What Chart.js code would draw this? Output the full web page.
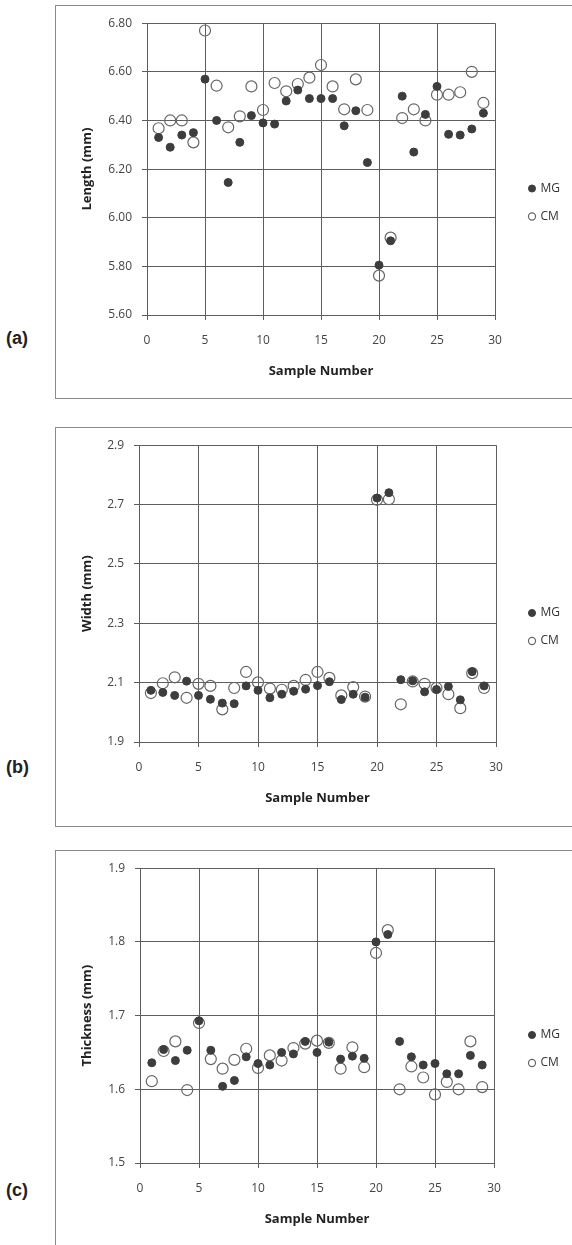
<!DOCTYPE html>
<html>
<head>
<meta charset="utf-8">
<script src="https://cdn.jsdelivr.net/npm/chart.js@4.4.1/dist/chart.umd.min.js"></script>
<style>
  html, body { margin: 0; padding: 0; background: #fff; width: 572px; height: 1245px; overflow: hidden; position: relative; }
  .box { position: absolute; left: 55px; width: 600px; border: 1px solid #8a8a8a; background: #fff; }
  .box canvas { position: absolute; left: 0; top: 0; }
  .tag { position: absolute; left: 6px; height: 20px; line-height: 20px; font: bold 18px "Liberation Sans", Arial, sans-serif; color: #222; }
</style>
</head>
<body>
<div class="box" style="top:5px;height:392px"><canvas id="chartA" width="516" height="392"></canvas></div>
<div class="box" style="top:427px;height:398px"><canvas id="chartB" width="516" height="398"></canvas></div>
<div class="box" style="top:850px;height:400px"><canvas id="chartC" width="516" height="394"></canvas></div>
<div class="tag" style="top:328px">(a)</div>
<div class="tag" style="top:757px">(b)</div>
<div class="tag" style="top:1180px">(c)</div>

<script>
// sample numbers on the x axis
const sampleNo = [1, 2, 3, 4, 5, 6, 7, 8, 9, 10, 11, 12, 13, 14, 15, 16, 17, 18, 19, 20, 21, 22, 23, 24, 25, 26, 27, 28, 29];

// (a) length, mm
const lengthMG = [6.33, 6.29, 6.34, 6.35, 6.57, 6.40, 6.145, 6.31, 6.42, 6.39, 6.385, 6.48, 6.525, 6.49, 6.49, 6.49, 6.378, 6.44, 6.227, 5.805, 5.905, 6.50, 6.27, 6.425, 6.54, 6.343, 6.34, 6.365, 6.43];
const lengthCM = [6.368, 6.40, 6.40, 6.31, 6.77, 6.543, 6.372, 6.417, 6.54, 6.443, 6.554, 6.52, 6.55, 6.576, 6.628, 6.54, 6.446, 6.569, 6.443, 5.762, 5.918, 6.41, 6.446, 6.40, 6.506, 6.506, 6.516, 6.60, 6.472];

// (b) width, mm
const widthMG = [2.074, 2.067, 2.057, 2.105, 2.057, 2.044, 2.031, 2.029, 2.089, 2.074, 2.049, 2.061, 2.071, 2.078, 2.09, 2.103, 2.043, 2.061, 2.051, 2.722, 2.74, 2.11, 2.106, 2.069, 2.077, 2.087, 2.042, 2.137, 2.089];
const widthCM = [2.065, 2.098, 2.118, 2.049, 2.096, 2.089, 2.01, 2.082, 2.136, 2.101, 2.08, 2.076, 2.089, 2.109, 2.136, 2.116, 2.057, 2.085, 2.053, 2.716, 2.718, 2.027, 2.104, 2.096, 2.082, 2.061, 2.014, 2.132, 2.082];

// (c) thickness, mm
const thicknessMG = [1.636, 1.654, 1.639, 1.653, 1.693, 1.653, 1.604, 1.612, 1.644, 1.635, 1.633, 1.65, 1.648, 1.665, 1.65, 1.664, 1.641, 1.645, 1.642, 1.80, 1.81, 1.665, 1.644, 1.633, 1.635, 1.621, 1.621, 1.646, 1.633];
const thicknessCM = [1.611, 1.652, 1.665, 1.599, 1.69, 1.641, 1.628, 1.64, 1.655, 1.629, 1.646, 1.639, 1.656, 1.662, 1.666, 1.663, 1.628, 1.657, 1.63, 1.785, 1.816, 1.60, 1.631, 1.616, 1.593, 1.61, 1.60, 1.665, 1.603];

// tick labels
const xTicks = [0, 5, 10, 15, 20, 25, 30];
const lengthTicks = [5.6, 5.8, 6.0, 6.2, 6.4, 6.6, 6.8];
const widthTicks = [1.9, 2.1, 2.3, 2.5, 2.7, 2.9];
const thicknessTicks = [1.5, 1.6, 1.7, 1.8, 1.9];

const seriesNames = ['MG', 'CM'];

Chart.defaults.font.family = '"Open Sans", sans-serif';
Chart.defaults.color = '#333';

const gridColor = '#5e5e5e';

function pts(ys) {
  return sampleNo.map((n, i) => ({ x: n, y: ys[i] }));
}

function makePanel(id, mg, cm, yTitle, yTicks, digits, g) {
  const ctx = document.getElementById(id).getContext('2d');
  return new Chart(ctx, {
    type: 'scatter',
    data: {
      datasets: [{
        label: seriesNames[0],
        data: pts(mg),
        pointRadius: 4,
        pointBackgroundColor: '#3d3d3d',
        pointBorderColor: '#3d3d3d',
        borderWidth: 1
      }, {
        label: seriesNames[1],
        data: pts(cm),
        pointRadius: 5.5,
        pointBackgroundColor: 'rgba(255,255,255,0)',
        pointBorderColor: '#666',
        borderWidth: 1.2
      }]
    },
    options: {
      responsive: false,
      animation: false,
      clip: false,
      layout: { padding: { left: 19, top: 16, right: 8.5, bottom: g.padB } },
      plugins: {
        tooltip: { enabled: false },
        legend: {
          position: 'right',
          maxWidth: 50,
          labels: {
            usePointStyle: true,
            boxWidth: 5,
            boxHeight: 5,
            padding: 16,
            color: '#333',
            font: { size: 12 }
          }
        }
      },
      scales: {
        x: {
          type: 'linear',
          min: xTicks[0],
          max: xTicks[xTicks.length - 1],
          afterBuildTicks: s => { s.ticks = xTicks.map(v => ({ value: v })); },
          afterFit: s => { s.height = 68; },
          grid: { color: gridColor, lineWidth: 1, tickLength: 5 },
          border: { color: gridColor },
          ticks: { padding: 13, font: { size: 12 }, color: '#444' },
          title: { display: true, text: 'Sample Number', font: { size: 13, weight: 'bold' }, color: '#222' }
        },
        y: {
          type: 'linear',
          min: yTicks[0],
          max: yTicks[yTicks.length - 1],
          afterBuildTicks: s => { s.ticks = yTicks.map(v => ({ value: v })); },
          afterFit: s => { s.width = g.yWidth; },
          grid: { color: gridColor, lineWidth: 1, tickLength: 5 },
          border: { color: gridColor },
          ticks: { padding: 10, font: { size: 12 }, color: '#444', callback: v => Number(v).toFixed(digits) },
          title: { display: true, text: yTitle, font: { size: 13, weight: 'bold' }, color: '#222' }
        },
        gap: {
          type: 'linear',
          position: 'right',
          display: true,
          grid: { display: false },
          border: { display: false },
          ticks: { display: false },
          afterFit: s => { s.width = g.gap; }
        }
      }
    }
  });
}

makePanel('chartA', lengthMG, lengthCM, 'Length (mm)', lengthTicks, 2, { yWidth: 72, gap: 18.5, padB: 15 });
makePanel('chartB', widthMG, widthCM, 'Width (mm)', widthTicks, 1, { yWidth: 64, gap: 17.5, padB: 16 });
makePanel('chartC', thicknessMG, thicknessCM, 'Thickness (mm)', thicknessTicks, 1, { yWidth: 65, gap: 19.5, padB: 14 });
</script>
</body>
</html>
